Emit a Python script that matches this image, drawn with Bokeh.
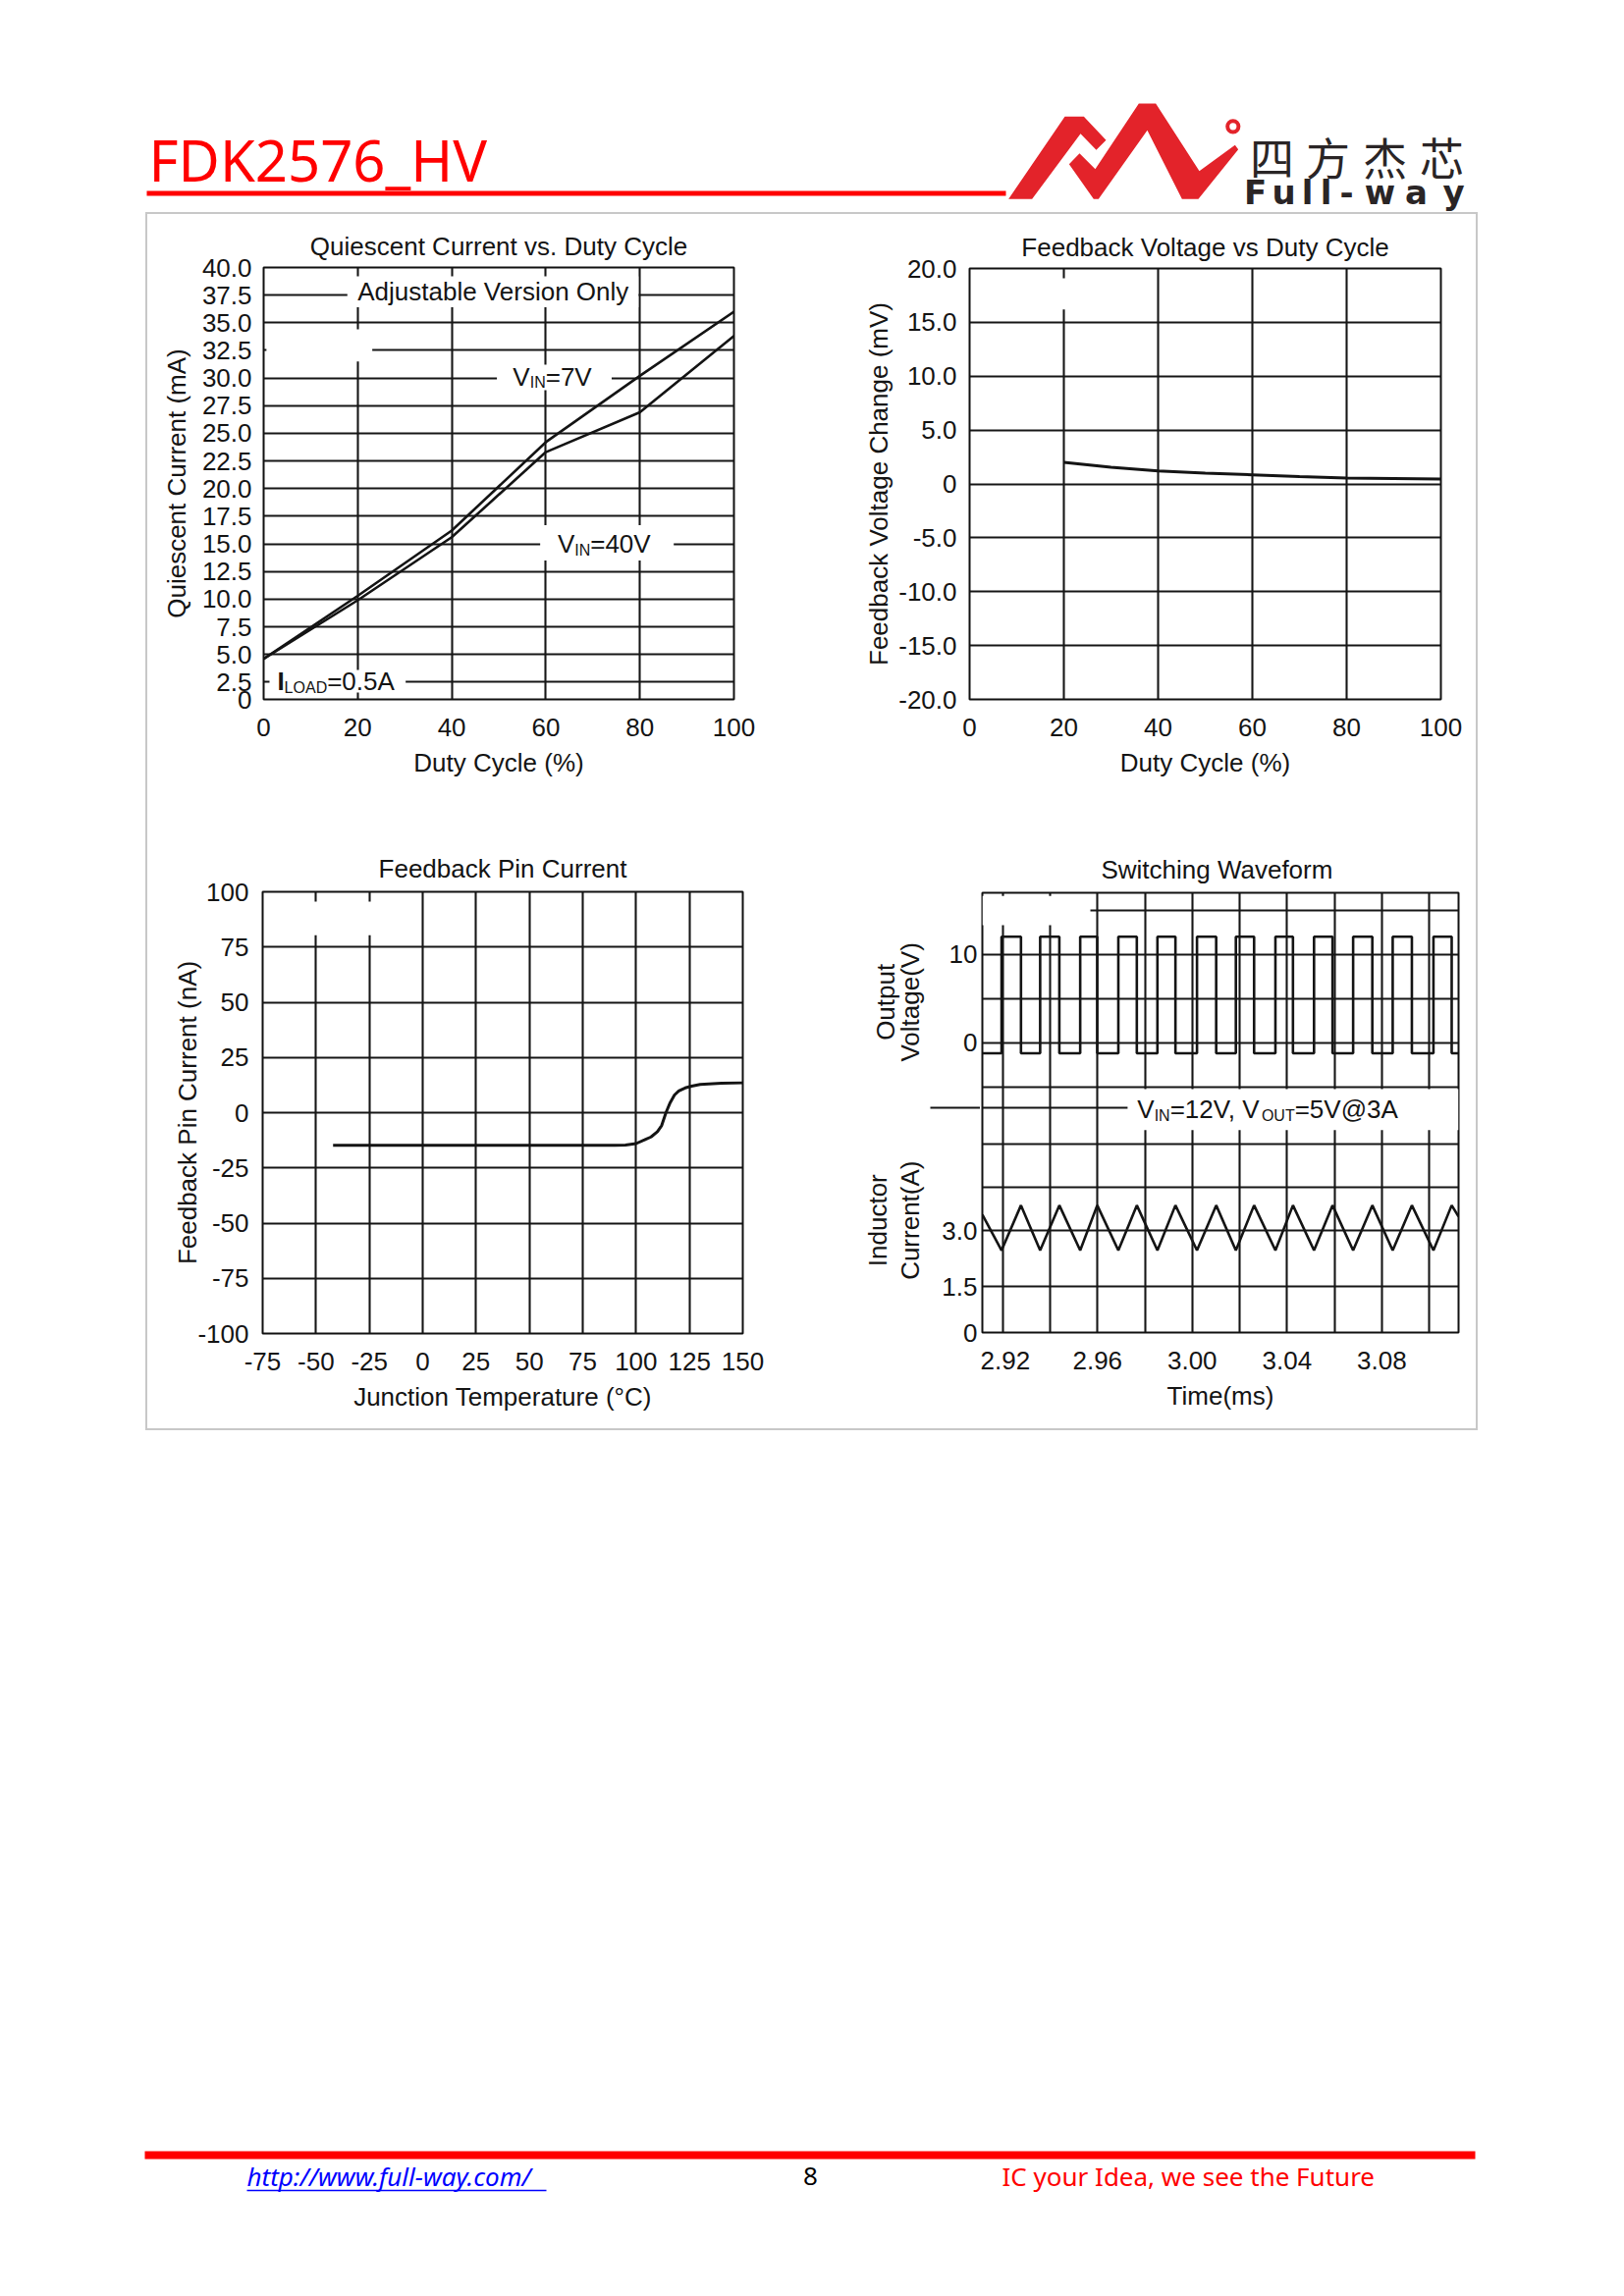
import math
from bokeh.plotting import figure
from bokeh.models import Range1d, FixedTicker, PrintfTickFormatter, Grid, Spacer
from bokeh.layouts import column, row
from bokeh.core.properties import value
from bokeh.embed import file_html
from bokeh.resources import INLINE

FONT = "Liberation Sans"
INK = "#141414"
GRID = "#161616"
FS = "26px"

# ---------------- data ----------------
# Panel 1: Quiescent Current vs. Duty Cycle
Q_DUTY = [0, 20, 40, 60, 80, 100]
Q_VIN7 = [4.6, 10.3, 16.2, 24.2, 30.2, 36.0]
Q_VIN40 = [4.6, 9.9, 15.6, 23.3, 26.9, 33.8]
Q_XTICKS = [0, 20, 40, 60, 80, 100]
Q_YTICKS = [2.5, 5.0, 7.5, 10.0, 12.5, 15.0, 17.5, 20.0, 22.5, 25.0, 27.5,
            30.0, 32.5, 35.0, 37.5, 40.0]
Q_YBOTTOM = 0.93          # compressed bottom of the printed axis, labelled "0"

# Panel 2: Feedback Voltage vs Duty Cycle
FV_DUTY = [20, 30, 40, 50, 60, 70, 80, 90, 100]
FV_MV = [2.0, 1.55, 1.2, 1.0, 0.85, 0.68, 0.55, 0.5, 0.45]
FV_XTICKS = [0, 20, 40, 60, 80, 100]
FV_YTICKS = [-20, -15, -10, -5, 0, 5, 10, 15, 20]

# Panel 3: Feedback Pin Current
FP_TEMP = [-42, 0, 50, 90, 95, 100, 104, 107, 110, 112, 114, 116, 118, 120,
           123, 126, 130, 140, 150]
FP_NA = [-14.8, -14.8, -14.8, -14.8, -14.7, -14.0, -12.3, -11.0, -8.6, -5.8,
         0.0, 4.6, 8.0, 9.8, 11.2, 12.0, 12.8, 13.3, 13.5]
FP_XTICKS = [-75, -50, -25, 0, 25, 50, 75, 100, 125, 150]
FP_YTICKS = [-100, -75, -50, -25, 0, 25, 50, 75, 100]

# Panel 4: Switching Waveform
SW_RISE = [2.9195, 2.9358, 2.9527, 2.9688, 2.9853, 3.0020, 3.0184, 3.0351,
           3.0514, 3.0679, 3.0846, 3.1018]
SW_FALL = [2.9277, 2.9439, 2.9599, 2.9766, 2.9929, 3.0101, 3.0261, 3.0425,
           3.0592, 3.0760, 3.0927, 3.1095]
SW_VHIGH = 12.0
SW_VLOW = -1.2
IL_T = [2.9114, 2.9195, 2.9277, 2.9358, 2.9439, 2.9527, 2.9599, 2.9688, 2.9766,
        2.9853, 2.9929, 3.0020, 3.0101, 3.0184, 3.0261, 3.0351, 3.0425, 3.0514,
        3.0592, 3.0679, 3.0760, 3.0846, 3.0927, 3.1018, 3.1095, 3.1124]
IL_A = [3.42, 2.47, 3.67, 2.47, 3.67, 2.47, 3.67, 2.47, 3.67, 2.47, 3.67, 2.47,
        3.67, 2.47, 3.67, 2.47, 3.67, 2.47, 3.67, 2.47, 3.67, 2.47, 3.67, 2.47,
        3.67, 3.37]
SW_XTICKS = [2.92, 2.96, 3.00, 3.04, 3.08]
SW_XGRID = [2.92, 2.94, 2.96, 2.98, 3.00, 3.02, 3.04, 3.06, 3.08, 3.10]
SW_VTICKS = [0, 10]
SW_VGRID = [-5, 0, 5, 10, 15]
SW_ATICKS = [3.0, 1.5]
SW_AGRID = [1.5, 3.0, 4.15, 5.3]
SW_TRANGE = (2.9114, 3.1124)
SW_VRANGE = (-32.8, 16.97)
SW_ARANGE = (0.283, 11.99)

# ---------------- helpers ----------------
ARIAL = {' ': 278, ',': 278, '.': 278, '=': 584, '@': 1015, 'A': 667, 'D': 722,
         'I': 278, 'L': 556, 'N': 722, 'O': 778, 'T': 611, 'U': 722, 'V': 667}


def tw(s, size):
    return sum(ARIAL.get(c, 556) for c in s) * size / 1000.0


def rich(p, x, y, pieces, y_range_name="default"):
    """pieces: (text, size_px, downward shift px, bold); x = left edge, y = text centre."""
    off = 0.0
    for t, sz, dy, bold in pieces:
        p.text(x=[x], y=[y], text=[t], x_offset=off, y_offset=dy,
               text_font=value(FONT), text_font_size=f"{sz}px",
               text_font_style="bold" if bold else "normal",
               text_align="left", text_baseline="middle", text_color=INK,
               y_range_name=y_range_name)
        off += tw(t, sz)


def bare(w, h, xr, yr, **kw):
    p = figure(width=w, height=h, x_range=Range1d(*xr), y_range=Range1d(*yr),
               x_axis_location=None, y_axis_location=None, toolbar_location=None,
               output_backend="svg", min_border=0, outline_line_color=None, **kw)
    p.frame_align = False
    p.grid.visible = False
    return p


def panel(w, h, bl, br, bt, bb, xr, yr, title, standoff=13, **kw):
    p = figure(width=w, height=h, x_range=Range1d(*xr), y_range=Range1d(*yr),
               toolbar_location=None, output_backend="svg", title=title,
               min_border_left=bl, min_border_right=br, min_border_top=bt,
               min_border_bottom=bb, background_fill_color="white",
               border_fill_color="white", **kw)
    p.frame_align = False
    p.outline_line_color = "#111111"
    p.outline_line_width = 2
    p.title.align = "center"
    p.title.text_font = FONT
    p.title.text_font_size = FS
    p.title.text_font_style = "normal"
    p.title.text_color = INK
    p.title.standoff = standoff
    for ax in p.axis:
        ax.axis_line_color = None
        ax.major_tick_line_color = None
        ax.minor_tick_line_color = None
        ax.major_tick_out = 0
        ax.major_tick_in = 0
        ax.minor_tick_out = 0
        ax.minor_tick_in = 0
        ax.major_label_text_font = FONT
        ax.major_label_text_font_size = FS
        ax.major_label_text_color = INK
        ax.axis_label_text_font = FONT
        ax.axis_label_text_font_size = FS
        ax.axis_label_text_font_style = "normal"
        ax.axis_label_text_color = INK
    p.xaxis.major_label_standoff = 19
    p.xaxis.axis_label_standoff = 9
    for g in p.grid:
        g.grid_line_color = GRID
        g.grid_line_width = 2.1
    return p


def mask(p, l, r, b, t, y_range_name="default"):
    p.quad(left=[l], right=[r], bottom=[b], top=[t], fill_color="white",
           line_color=None, y_range_name=y_range_name)


# ---------------- panel 1 ----------------
p1 = panel(676, 618, 118, 79, 54, 124, (0, 100), (Q_YBOTTOM, 40),
           "Quiescent Current vs. Duty Cycle", standoff=14)
p1.xaxis.ticker = FixedTicker(ticks=Q_XTICKS)
p1.yaxis.ticker = FixedTicker(ticks=[Q_YBOTTOM] + Q_YTICKS)
p1.yaxis.formatter = PrintfTickFormatter(format="%.1f")
p1.yaxis.major_label_overrides = {Q_YBOTTOM: "0"}
p1.yaxis.major_label_standoff = 12
p1.xgrid.ticker = FixedTicker(ticks=Q_XTICKS)
p1.ygrid.ticker = FixedTicker(ticks=Q_YTICKS)
p1.xaxis.axis_label = "Duty Cycle (%)"
p1.yaxis.axis_label = "Quiescent Current (mA)"
p1.yaxis.axis_label_standoff = 8
mask(p1, 0.6, 23.1, 31.5, 34.4)
mask(p1, 17.8, 79.7, 36.4, 39.2)
mask(p1, 49.6, 74.0, 28.9, 31.2)
mask(p1, 58.8, 87.2, 13.5, 16.7)
mask(p1, 1.25, 30.2, 1.55, 3.6)
p1.line(Q_DUTY, Q_VIN7, line_color=INK, line_width=2.6)
p1.line(Q_DUTY, Q_VIN40, line_color=INK, line_width=2.6)
p1.text(x=[48.8], y=[37.8], text=["Adjustable Version Only"],
        text_font=value(FONT), text_font_size=FS, text_align="center",
        text_baseline="middle", text_color=INK)
rich(p1, 53.0, 30.1, [("V", 26, 0, False), ("IN", 16, 6, False), ("=7V", 26, 0, False)])
rich(p1, 62.5, 15.0, [("V", 26, 0, False), ("IN", 16, 6, False), ("=40V", 26, 0, False)])
rich(p1, 2.9, 2.55, [("I", 26, 0, True), ("LOAD", 16, 6, False), ("=0.5A", 26, 0, False)])

# ---------------- panel 2 ----------------
p2 = panel(677, 618, 161, 36, 55, 124, (0, 100), (-20, 20),
           "Feedback Voltage vs Duty Cycle", standoff=14)
p2.xaxis.ticker = FixedTicker(ticks=FV_XTICKS)
p2.yaxis.ticker = FixedTicker(ticks=FV_YTICKS)
p2.yaxis.formatter = PrintfTickFormatter(format="%.1f")
p2.yaxis.major_label_overrides = {0: "0"}
p2.yaxis.major_label_standoff = 13
p2.xgrid.ticker = FixedTicker(ticks=FV_XTICKS)
p2.ygrid.ticker = FixedTicker(ticks=FV_YTICKS)
p2.xaxis.axis_label = "Duty Cycle (%)"
p2.yaxis.axis_label = "Feedback Voltage Change (mV)"
p2.yaxis.axis_label_standoff = 2
mask(p2, 3, 23, 16.2, 19.1)
p2.line(FV_DUTY, FV_MV, line_color=INK, line_width=3)

# ---------------- panel 3 ----------------
p3 = panel(676, 619, 117, 70, 72, 97, (-75, 150), (-100, 100), "Feedback Pin Current",
           standoff=17)
p3.xaxis.ticker = FixedTicker(ticks=FP_XTICKS)
p3.xaxis.formatter = PrintfTickFormatter(format="%d")
p3.yaxis.ticker = FixedTicker(ticks=FP_YTICKS)
p3.yaxis.formatter = PrintfTickFormatter(format="%d")
p3.yaxis.major_label_standoff = 14
p3.xgrid.ticker = FixedTicker(ticks=FP_XTICKS)
p3.ygrid.ticker = FixedTicker(ticks=FP_YTICKS)
p3.xaxis.axis_label = "Junction Temperature (\u00b0C)"
p3.yaxis.axis_label = "Feedback Pin Current (nA)"
p3.yaxis.axis_label_standoff = -8
mask(p3, -58, -20, 80.3, 95.6)
p3.line(FP_TEMP, FP_NA, line_color=INK, line_width=3)

# ---------------- panel 4 (frame) ----------------
P4_TOP, P4_BOT, P4_H = 73, 98, 619
p4 = panel(505, P4_H, 2, 18, P4_TOP, P4_BOT, SW_TRANGE, SW_VRANGE,
           "Switching  Waveform", standoff=17, y_axis_location=None,
           extra_y_ranges={"amp": Range1d(*SW_ARANGE)})
p4.xaxis.ticker = FixedTicker(ticks=SW_XTICKS)
p4.xaxis.formatter = PrintfTickFormatter(format="%.2f")
p4.xgrid.ticker = FixedTicker(ticks=SW_XGRID)
p4.ygrid.ticker = FixedTicker(ticks=SW_VGRID)
p4.add_layout(Grid(dimension=1, ticker=FixedTicker(ticks=SW_AGRID), y_range_name="amp",
                   grid_line_color=GRID, grid_line_width=2.1))
p4.xaxis.axis_label = "Time(ms)"
t0, t1 = SW_TRANGE
mask(p4, t0, 2.957, 13.3, 16.6)
mask(p4, 2.9727, t1, -9.9, -5.25)
vx, vy = [t0], [SW_VLOW]
for r, f in zip(SW_RISE, SW_FALL):
    vx += [r, r, f, f]
    vy += [SW_VLOW, SW_VHIGH, SW_VHIGH, SW_VLOW]
vx.append(t1)
vy.append(SW_VLOW)
p4.line(vx, vy, line_color=INK, line_width=2.6)
p4.line(IL_T, IL_A, line_color=INK, line_width=2.6, y_range_name="amp")
p4.line([t0, 2.9727], [-7.36, -7.36], line_color=INK, line_width=2)
rich(p4, 2.9768, -7.57, [("V", 26, 0, False), ("IN", 16, 6, False),
                         ("=12V, V", 26, 0, False), ("OUT", 16, 6, False),
                         ("=5V@3A", 26, 0, False)])

# ---------------- panel 4 (left scale strip sharing the same value scales) ----------------
frame_h = P4_H - P4_TOP - P4_BOT
v_px = frame_h / (SW_VRANGE[1] - SW_VRANGE[0])
a_px = frame_h / (SW_ARANGE[1] - SW_ARANGE[0])
lab = bare(172, P4_H, (826, 998),
           (SW_VRANGE[0] - P4_BOT / v_px, SW_VRANGE[1] + P4_TOP / v_px),
           extra_y_ranges={"amp": Range1d(SW_ARANGE[0] - P4_BOT / a_px,
                                          SW_ARANGE[1] + P4_TOP / a_px)})
lab.text(x=[995] * len(SW_VTICKS), y=SW_VTICKS, text=[str(v) for v in SW_VTICKS],
         text_font=value(FONT), text_font_size=FS, text_color=INK,
         text_align="right", text_baseline="middle")
lab.text(x=[995] * 3, y=SW_ATICKS + [SW_ARANGE[0]], text=["3.0", "1.5", "0"],
         text_font=value(FONT), text_font_size=FS, text_color=INK,
         text_align="right", text_baseline="middle", y_range_name="amp")
for xx, yy, txt, rn in [(901.5, 4.6, "Output", "default"), (926.3, 4.6, "Voltage(V)", "default"),
                        (893.0, 3.27, "Inductor", "amp"), (926.3, 3.27, "Current(A)", "amp")]:
    lab.text(x=[xx], y=[yy], text=[txt], angle=math.pi / 2, text_font=value(FONT),
             text_font_size=FS, text_color=INK, text_align="center",
             text_baseline="middle", y_range_name=rn)
lab.line([947, 998], [-7.36, -7.36], line_color=INK, line_width=2)

# ---------------- header ----------------
hdr = bare(1638, 208, (8, 1646), (216, 8))
hdr.text(x=[151], y=[162], text=["FDK2576_HV"], text_font=value("Noto Sans"),
         text_font_size="58px", text_color="#ff0000", text_baseline="middle")
hdr.quad(left=[149], right=[1024], top=[194], bottom=[199], fill_color="#ff0000", line_color=None)
logo_a = [(20, 322), (192, 70), (250, 70), (318, 142), (288, 172), (240, 122), (92, 322)]
logo_b = [(205, 215), (237, 182), (285, 230), (418, 30), (470, 30), (603, 236), (712, 157),
          (722, 170), (600, 322), (550, 322), (444, 112), (295, 322), (280, 322)]
hdr.patches(xs=[[1020 + x / 3 for x, _ in pl] for pl in (logo_a, logo_b)],
            ys=[[95 + y / 3 for _, y in pl] for pl in (logo_a, logo_b)],
            fill_color="#e3232a", line_color=None)
hdr.annulus(x=[1255.3], y=[128.3], inner_radius=3.6, outer_radius=7.6,
            fill_color="#e3232a", line_color=None)
hdr.text(x=[1295, 1352, 1410, 1468], y=[159] * 4, text=list("四方杰芯"),
         text_font=value("Noto Sans CJK SC"), text_font_size="45px", text_color="#2a2526",
         text_align="center", text_baseline="middle")
hdr.text(x=[1278, 1307, 1331, 1350, 1371, 1405, 1442, 1480], y=[195] * 8,
         text=list("Full-way"), text_font=value("DejaVu Sans"), text_font_size="34px",
         text_font_style="bold", text_color="#2a2526", text_align="center",
         text_baseline="middle")

# ---------------- footer ----------------
ftr = bare(1638, 60, (8, 1646), (2240, 2180))
ftr.quad(left=[147], right=[1502], top=[2191], bottom=[2199], fill_color="#ff0000", line_color=None)
ftr.text(x=[251], y=[2216], text=["http://www.full-way.com/"], text_font=value("Noto Sans"),
         text_font_size="26px", text_font_style="italic", text_color="#0000ff",
         text_baseline="middle")
ftr.line(x=[251, 556], y=[2231, 2231], line_color="#0000ff", line_width=1.5)
ftr.text(x=[825], y=[2216], text=["8"], text_font=value("Noto Sans"), text_font_size="26px",
         text_color="black", text_align="center", text_baseline="middle")
ftr.text(x=[1020], y=[2216], text=["IC your Idea, we see the Future"], text_font=value("Noto Sans"),
         text_font_size="26px", text_color="#ff0000", text_baseline="middle")

mid = column(row(p1, p2), row(p3, lab, p4), styles={"border": "2px solid #c8c8c8"})
content = column(hdr, row(Spacer(width=140, height=10), mid), Spacer(width=10, height=723), ftr)
page = column(Spacer(width=10, height=8), row(Spacer(width=8, height=10), content))

open("out.html", "w").write(file_html(page, INLINE, "FDK2576_HV"))
